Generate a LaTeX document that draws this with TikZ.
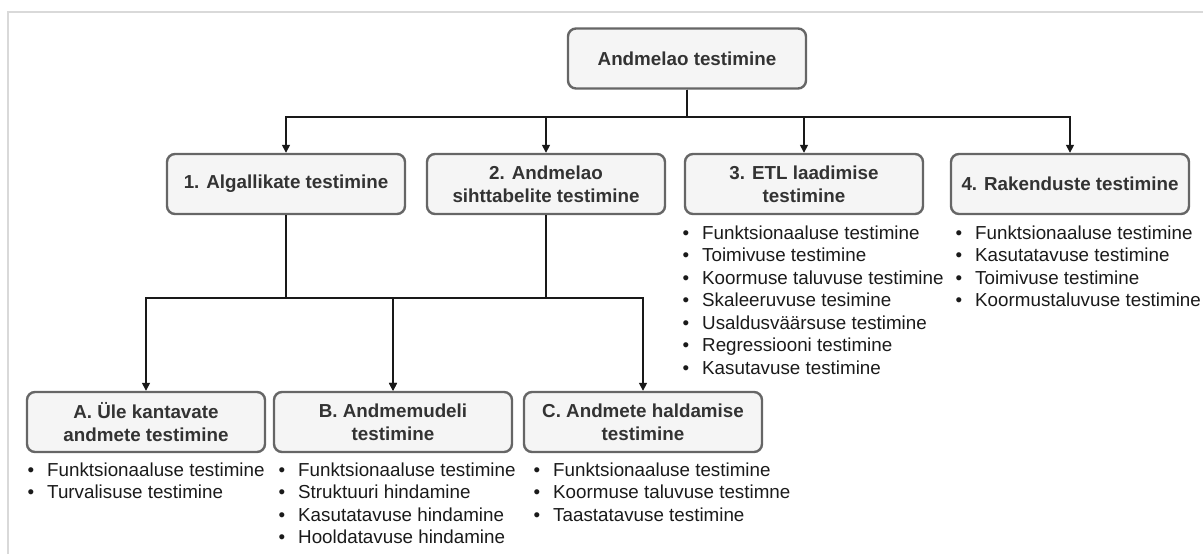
\documentclass[tikz,border=0pt]{standalone}
\usepackage{fontspec}
\setmainfont{Liberation Sans}
\usetikzlibrary{arrows.meta}
\definecolor{boxfill}{HTML}{F5F5F5}
\definecolor{boxline}{HTML}{666666}
\definecolor{titletext}{HTML}{333333}
\definecolor{listtext}{HTML}{1A1A1A}
\definecolor{frameline}{HTML}{D9D9D9}
% bullet followed by the hanging indent of a list item
\newcommand\bitem{\makebox[19.5pt][l]{\textbullet}}

\begin{document}
\begin{tikzpicture}[x=1pt,y=-1pt,
  box/.style={draw=boxline, line width=2.4pt, fill=boxfill, rounded corners=8pt,
    minimum width=238pt, minimum height=60pt, align=center, text=titletext,
    font=\fontsize{18.8}{23}\selectfont\bfseries, inner sep=0pt},
  lst/.style={anchor=base west, inner sep=0pt, text=listtext,
    font=\fontsize{18.8}{22.5}\selectfont},
  link/.style={line width=1.5pt, draw=black!90, -{Triangle[length=8pt,width=8pt]}},
  frame/.style={draw=frameline, line width=2pt}
]
\useasboundingbox (0,0) rectangle (1203,554);

% page frame
\draw[frame] (1203,12) -- (8,12) -- (8,554);

% bus lines
\coordinate (bus) at (0,117);
\coordinate (bus2) at (0,298);

% boxes
\node[box] (root) at (687,58.5) {Andmelao testimine};

\node[box] (b1) at (286,184) {1. Algallikate testimine};
\node[box] (b2) at (546,184) {2. Andmelao\\sihttabelite testimine};
\node[box] (b3) at (804,184) {3. ETL laadimise\\testimine};
\node[box] (b4) at (1070,184) {4. Rakenduste testimine};

\node[box] (bA) at (146,422) {A. Üle kantavate\\andmete testimine};
\node[box] (bB) at (393,422) {B. Andmemudeli\\testimine};
\node[box] (bC) at (643,422) {C. Andmete haldamise\\testimine};

% connectors
\draw[link] (root.south) -- (root.south |- bus) -| (b1.north);
\draw[link] (root.south) -- (root.south |- bus) -| (b2.north);
\draw[link] (root.south) -- (root.south |- bus) -| (b3.north);
\draw[link] (root.south) -- (root.south |- bus) -| (b4.north);

\draw[link] (b1.south) -- (b1.south |- bus2) -| (bA.north);
\draw[link] (b1.south) -- (b1.south |- bus2) -| (bB.north);
\draw[link] (b2.south) -- (b2.south |- bus2) -| (bB.north);
\draw[link] (b2.south) -- (b2.south |- bus2) -| (bC.north);

% item lists
\node[lst] (l3) at (682.5,239) {\begin{tabular}[t]{@{}l@{}}
\bitem Funktsionaaluse testimine\\
\bitem Toimivuse testimine\\
\bitem Koormuse taluvuse testimine\\
\bitem Skaleeruvuse tesimine\\
\bitem Usaldusväärsuse testimine\\
\bitem Regressiooni testimine\\
\bitem Kasutavuse testimine
\end{tabular}};

\node[lst] (l4) at (955.5,239) {\begin{tabular}[t]{@{}l@{}}
\bitem Funktsionaaluse testimine\\
\bitem Kasutatavuse testimine\\
\bitem Toimivuse testimine\\
\bitem Koormustaluvuse testimine
\end{tabular}};

\node[lst] (lA) at (27.5,476) {\begin{tabular}[t]{@{}l@{}}
\bitem Funktsionaaluse testimine\\
\bitem Turvalisuse testimine
\end{tabular}};

\node[lst] (lB) at (278.5,476) {\begin{tabular}[t]{@{}l@{}}
\bitem Funktsionaaluse testimine\\
\bitem Struktuuri hindamine\\
\bitem Kasutatavuse hindamine\\
\bitem Hooldatavuse hindamine
\end{tabular}};

\node[lst] (lC) at (533.5,476) {\begin{tabular}[t]{@{}l@{}}
\bitem Funktsionaaluse testimine\\
\bitem Koormuse taluvuse testimne\\
\bitem Taastatavuse testimine
\end{tabular}};
\end{tikzpicture}
\end{document}
